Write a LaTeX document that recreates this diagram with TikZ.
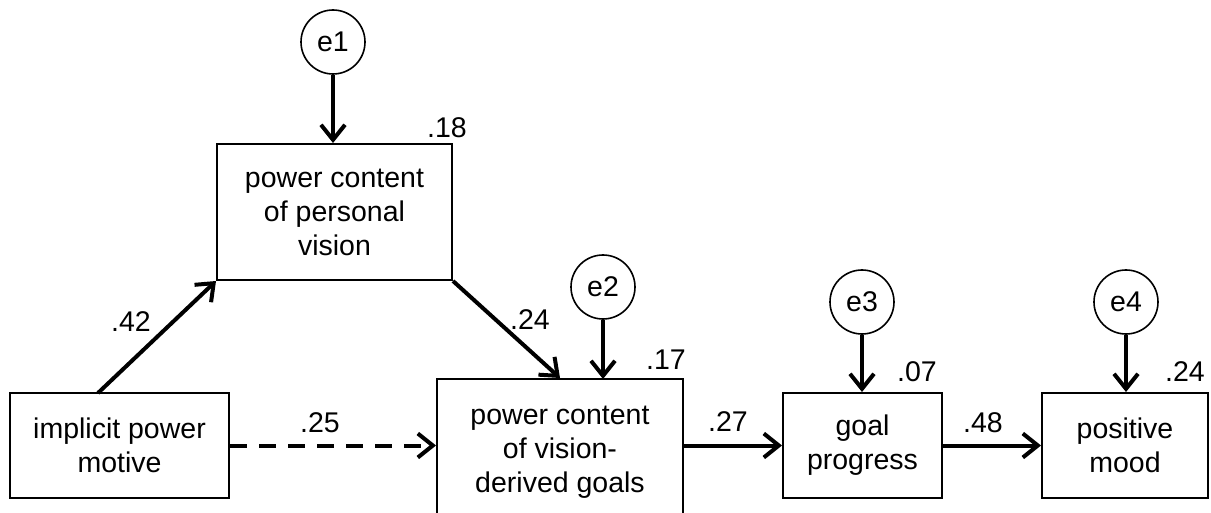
\documentclass[tikz,border=0pt]{standalone}
\usepackage{fontspec}
\setmainfont{Liberation Sans}
\usetikzlibrary{arrows.meta}
\begin{document}
\begin{tikzpicture}[x=1pt,y=-1pt,
  box/.style={draw,line width=2pt,align=center,inner sep=0pt,
    font=\fontsize{28.5}{34}\selectfont},
  err/.style={draw,circle,line width=1.6pt,minimum size=64pt,inner sep=0pt,
    font=\fontsize{28.5}{30}\selectfont},
  lbl/.style={font=\fontsize{28.5}{30}\selectfont,inner sep=0pt},
  path/.style={line width=4pt,-{Straight Barb[length=15pt,width=24pt,line width=4pt]}}
]
\useasboundingbox (0,0) rectangle (1211,513);

% observed variables
\node[box,minimum width=219pt,minimum height=105pt] (ipm) at (119.5,445.5) {implicit power\\motive};
\node[box,minimum width=235pt,minimum height=136pt] (pv) at (334.5,212) {power content\\of personal\\vision};
\node[box,minimum width=246pt,minimum height=146pt] (vg) at (560,452) {power content\\of vision-\\derived goals};
\node[box,minimum width=159pt,minimum height=105pt] (gp) at (862.5,445.5) {goal\\progress};
\node[box,minimum width=166pt,minimum height=105pt] (pm) at (1125,445.5) {positive\\mood};

% residuals
\node[err] (e1) at (333,42) {e1};
\node[err] (e2) at (603,287) {e2};
\node[err] (e3) at (862,302) {e3};
\node[err] (e4) at (1126,302) {e4};

% paths
\coordinate (ipmTop) at (98,393);
\coordinate (e2in) at (603,379);
\draw[path] (ipmTop) -- (pv.south west);
\draw[path] (pv.south east) -- (vg.north);
\draw[path,dash pattern=on 17pt off 12pt] (ipm.east) -- (vg.west |- ipm.east);
\draw[path] (vg.east |- gp.west) -- (gp.west);
\draw[path] (gp.east) -- (pm.west);
\draw[path] (e1.south) -- (pv.north -| e1.south);
\draw[path] (e2.south) -- (e2in);
\draw[path] (e3.south) -- (gp.north -| e3.south);
\draw[path] (e4.south) -- (pm.north -| e4.south);

% coefficients
\node[lbl] (c42) at (131,322) {.42};
\node[lbl] (c24) at (530,320) {.24};
\node[lbl] (c25) at (320,423) {.25};
\node[lbl] (c27) at (728,422) {.27};
\node[lbl] (c48) at (983,423) {.48};

% explained variance
\node[lbl] (r18) at (447,128) {.18};
\node[lbl] (r17) at (666,360) {.17};
\node[lbl] (r07) at (917,372) {.07};
\node[lbl] (r24) at (1185,372) {.24};
\end{tikzpicture}
\end{document}
